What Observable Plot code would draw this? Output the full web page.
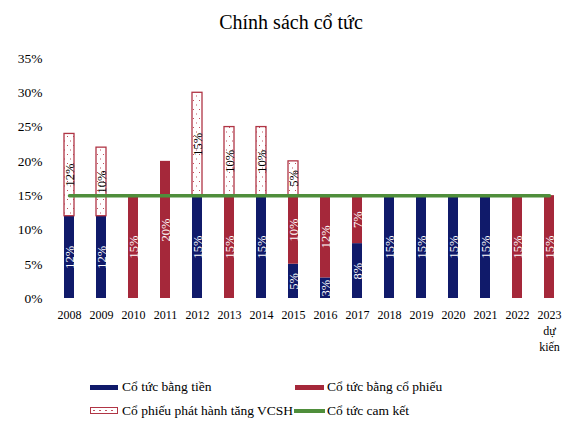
<!DOCTYPE html>
<html lang="vi">
<head>
<meta charset="utf-8">
<script src="https://cdn.jsdelivr.net/npm/d3@7"></script>
<script src="https://cdn.jsdelivr.net/npm/@observablehq/plot@0.6"></script>
<style>
  html, body { margin: 0; padding: 0; background: #fff; }
  #wrap { position: relative; width: 582px; height: 429px; font-family: "Liberation Serif", "Times New Roman", serif; color: #000; }
  #title { position: absolute; left: 0; top: 8px; width: 582px; text-align: center; font-size: 20px; line-height: 28px; }
  #chart { position: absolute; left: 0; top: 44px; }
  .lg { position: absolute; font-size: 13.5px; line-height: 16px; white-space: nowrap; }
  .sw { position: absolute; }
</style>
</head>
<body>
<div id="wrap">
  <div id="title">Chính sách cổ tức</div>
  <div id="chart"></div>
  <div class="sw" style="left:90px;top:385px;width:28px;height:5px;background:#101a6a"></div>
  <div class="lg" style="left:122px;top:379px">Cổ tức bằng tiền</div>
  <div class="sw" style="left:295px;top:385px;width:29px;height:5px;background:#a5283a"></div>
  <div class="lg" style="left:327px;top:379px">Cổ tức bằng cổ phiếu</div>
  <div class="sw" style="left:90px;top:407px;width:26px;height:5px;border:1.2px solid #b03545;background:#fff"></div>
  <div class="lg" style="left:122px;top:403px">Cổ phiếu phát hành tăng VCSH</div>
  <div class="sw" style="left:294px;top:409px;width:31px;height:3.5px;background:#4f8e3b"></div>
  <div class="lg" style="left:327px;top:403px">Cổ tức cam kết</div>
</div>
<script>
// Years (last one is the forecast year, split over three lines)
const years = ["2008", "2009", "2010", "2011", "2012", "2013", "2014", "2015",
               "2016", "2017", "2018", "2019", "2020", "2021", "2022", "2023\ndự\nkiến"];
// Cash dividend, % of par
const cashDividend = [12, 12, 0, 0, 15, 0, 15, 5, 3, 8, 15, 15, 15, 15, 0, 0];
// Stock dividend, % of par
const stockDividend = [0, 0, 15, 20, 0, 15, 0, 10, 12, 7, 0, 0, 0, 0, 15, 15];
// Share issuance to raise equity, %
const shareIssue = [12, 10, 0, 0, 15, 10, 10, 5, 0, 0, 0, 0, 0, 0, 0, 0];
// Committed dividend level, %
const committed = [15, 15, 15, 15, 15, 15, 15, 15, 15, 15, 15, 15, 15, 15, 15, 15];
const yTicks = [0, 5, 10, 15, 20, 25, 30, 35];

const serif = "'Liberation Serif', 'Times New Roman', serif";
const seriesNames = ["Cổ tức bằng tiền", "Cổ tức bằng cổ phiếu", "Cổ phiếu phát hành tăng VCSH"];
const seriesValues = [cashDividend, stockDividend, shareIssue];

const rows = [];
seriesValues.forEach((vals, s) => {
  vals.forEach((v, i) => {
    if (v > 0) rows.push({year: years[i], series: seriesNames[s], value: v});
  });
});
const lineRows = years.map((y, i) => ({year: y, value: committed[i]}));

const fillFor = {
  "Cổ tức bằng tiền": "#101a6a",
  "Cổ tức bằng cổ phiếu": "#a5283a",
  "Cổ phiếu phát hành tăng VCSH": "url(#dots)"
};
const order = seriesNames;

const stackOpts = {x: "year", y: "value", z: "series", order};

const chart = Plot.plot({
  width: 582,
  height: 316,
  marginTop: 14,
  marginBottom: 62,
  marginLeft: 41,
  marginRight: 5,
  style: {color: "#000", background: "#fff"},
  x: {domain: years, padding: 0.69, label: null},
  y: {domain: [0, 35], ticks: yTicks, label: null},
  marks: [
    Plot.axisY({ticks: yTicks, tickSize: 0, tickPadding: 0, dx: 1, fontSize: 13.5,
                tickFormat: d => d + "%", label: null}),
    Plot.axisX({tickSize: 0, tickPadding: 9, fontSize: 12, lineHeight: 1.35, label: null}),
    Plot.barY(rows, Plot.stackY({
      ...stackOpts,
      fill: d => fillFor[d.series],
      stroke: d => d.series === seriesNames[2] ? "#b03545" : "none",
      strokeWidth: 1.3
    })),
    Plot.line(lineRows, {x: "year", y: "value", stroke: "#4f8e3b", strokeWidth: 3.5}),
    Plot.text(rows, Plot.stackY({
      ...stackOpts,
      text: d => d.value + "%",
      rotate: -90,
      fontSize: 12.5,
      fill: d => d.series === seriesNames[2] ? "#000" : "#fff"
    }))
  ]
});

// Serif type throughout the plot
d3.select(chart).style("font-family", serif);
d3.select(chart).selectAll("g, text, tspan").style("font-family", serif);

// Dotted fill used by the share-issuance bars
d3.select(chart).insert("defs", ":first-child").html(
  `<pattern id="dots" width="6" height="9" patternUnits="userSpaceOnUse">
     <rect width="6" height="9" fill="#fff"/>
     <rect x="1" y="2" width="1" height="1" fill="#c0505e"/>
     <rect x="4" y="6.5" width="1" height="1" fill="#c0505e"/>
   </pattern>`
);

document.getElementById("chart").appendChild(chart);

// Dotted fill in the legend swatch too
const sw = document.querySelectorAll(".sw")[2];
sw.style.backgroundImage = "radial-gradient(#c0505e 0.6px, transparent 0.8px)";
sw.style.backgroundSize = "6px 5px";
</script>
</body>
</html>
